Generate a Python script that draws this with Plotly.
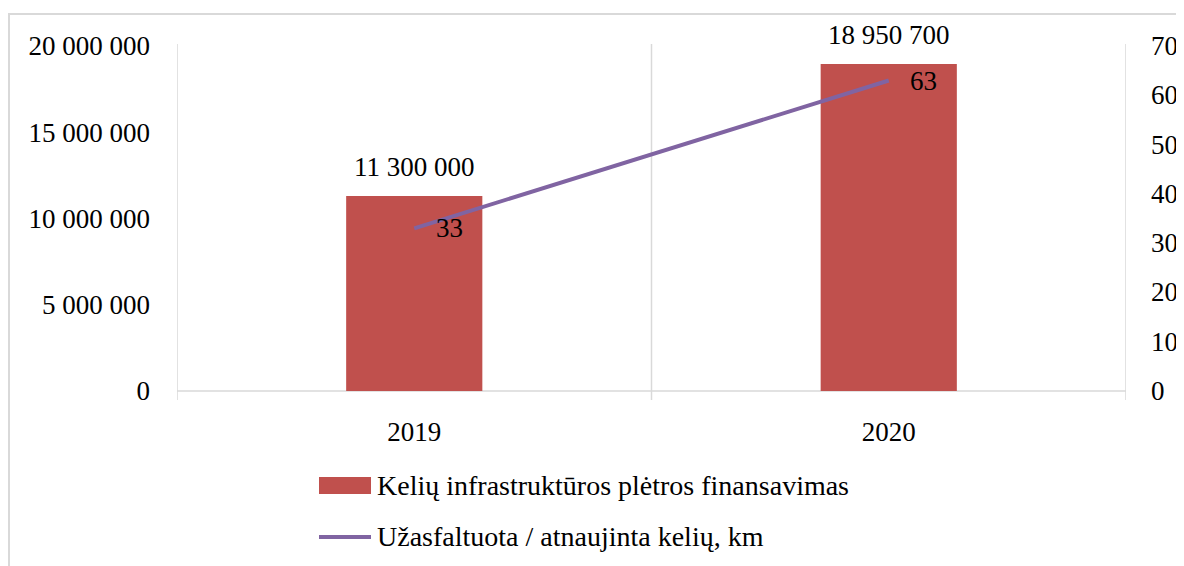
import plotly.graph_objects as go

years = ["2019", "2020"]
funding = [11300000, 18950700]
km = [33, 63]
funding_labels = ["11 300 000", "18 950 700"]
km_labels = ["33", "63"]
bar_name = "Kelių infrastruktūros plėtros finansavimas"
line_name = "Užasfaltuota / atnaujinta kelių, km"
left_ticks = [0, 5000000, 10000000, 15000000, 20000000]
left_ticktext = ["0", "5 000 000", "10 000 000", "15 000 000", "20 000 000"]
right_ticks = [0, 10, 20, 30, 40, 50, 60, 70]

OFF = 8  # page body margin
W, H = 1184 - OFF, 566 - OFF
# plot area in page pixels
L, R, T, B = 177, 1126, 46, 391
FONT = "Liberation Serif, Times New Roman, serif"
FS = 27
GRID = "#d9d9d9"
BAR_C = "#c0504d"
LINE_C = "#8064a2"

def px(x):
    return (x - L) / (R - L)

def py(y):
    return (B - y) / (B - T)

fig = go.Figure()
fig.add_trace(go.Bar(x=years, y=funding, name=bar_name, marker_color=BAR_C,
                     marker_line_width=0, width=0.287, showlegend=False))
fig.add_trace(go.Scatter(x=years, y=km, name=line_name, mode="lines",
                         line=dict(color=LINE_C, width=4), yaxis="y2", showlegend=False))

tf = dict(family=FONT, size=FS, color="black")
lf = dict(family=FONT, size=28, color="black")
annotations = []
for i, (v, t) in enumerate(zip(funding, funding_labels)):
    annotations.append(dict(x=i, y=v, xref="x", yref="y", text=t, showarrow=False,
                            yshift=29, font=tf))
for i, (v, t) in enumerate(zip(km, km_labels)):
    annotations.append(dict(x=i, y=v, xref="x", yref="y2", text=t, showarrow=False,
                            xshift=35, font=tf))
# right axis tick labels
for v in right_ticks:
    annotations.append(dict(x=px(1149), y=v, xref="paper", yref="y2", text=str(v),
                            showarrow=False, xanchor="left", yanchor="middle", font=tf))
# legend texts
annotations.append(dict(x=px(375), y=py(486), xref="paper", yref="paper", text=bar_name,
                        showarrow=False, xanchor="left", yanchor="middle", font=lf))
annotations.append(dict(x=px(375), y=py(536), xref="paper", yref="paper", text=line_name,
                        showarrow=False, xanchor="left", yanchor="middle", font=lf))

shapes = []
# chart border
shapes.append(dict(type="rect", xref="paper", yref="paper", x0=px(9), x1=px(1200),
                   y0=py(600), y1=py(14), line=dict(color=GRID, width=2), layer="below"))
# vertical category gridlines
for xv in [-0.5, 0.5, 1.5]:
    shapes.append(dict(type="line", xref="x", yref="paper", x0=xv, x1=xv,
                       y0=py(400), y1=py(44), line=dict(color=GRID, width=1.5), layer="below"))
# baseline
shapes.append(dict(type="line", xref="paper", yref="paper", x0=0, x1=1, y0=0, y1=0,
                   line=dict(color=GRID, width=1.5), layer="below"))
# legend symbols
shapes.append(dict(type="rect", xref="paper", yref="paper", x0=px(319), x1=px(371),
                   y0=py(494), y1=py(477), fillcolor=BAR_C, line=dict(width=0)))
shapes.append(dict(type="line", xref="paper", yref="paper", x0=px(319), x1=px(371),
                   y0=py(537), y1=py(537), line=dict(color=LINE_C, width=4)))

fig.update_layout(
    width=W, height=H,
    margin=dict(l=L - OFF, r=W - (R - OFF), t=T - OFF, b=H - (B - OFF), pad=0,
                autoexpand=False),
    paper_bgcolor="white", plot_bgcolor="white",
    font=tf,
    xaxis=dict(type="category", range=[-0.5, 1.5], showgrid=False, zeroline=False,
               showline=False, ticks="", ticklabelstandoff=22, automargin=False,
               tickfont=tf),
    yaxis=dict(range=[0, 20000000], tickvals=left_ticks, ticktext=left_ticktext,
               showgrid=False, zeroline=False, showline=False, ticks="", automargin=False,
               ticklabelstandoff=26, tickfont=tf),
    yaxis2=dict(range=[0, 70], tickvals=right_ticks, overlaying="y", side="right",
                showgrid=False, zeroline=False, showline=False, automargin=False,
                ticks="", showticklabels=False),
    annotations=annotations, shapes=shapes, showlegend=False,
)

fig.write_html("out.html")
